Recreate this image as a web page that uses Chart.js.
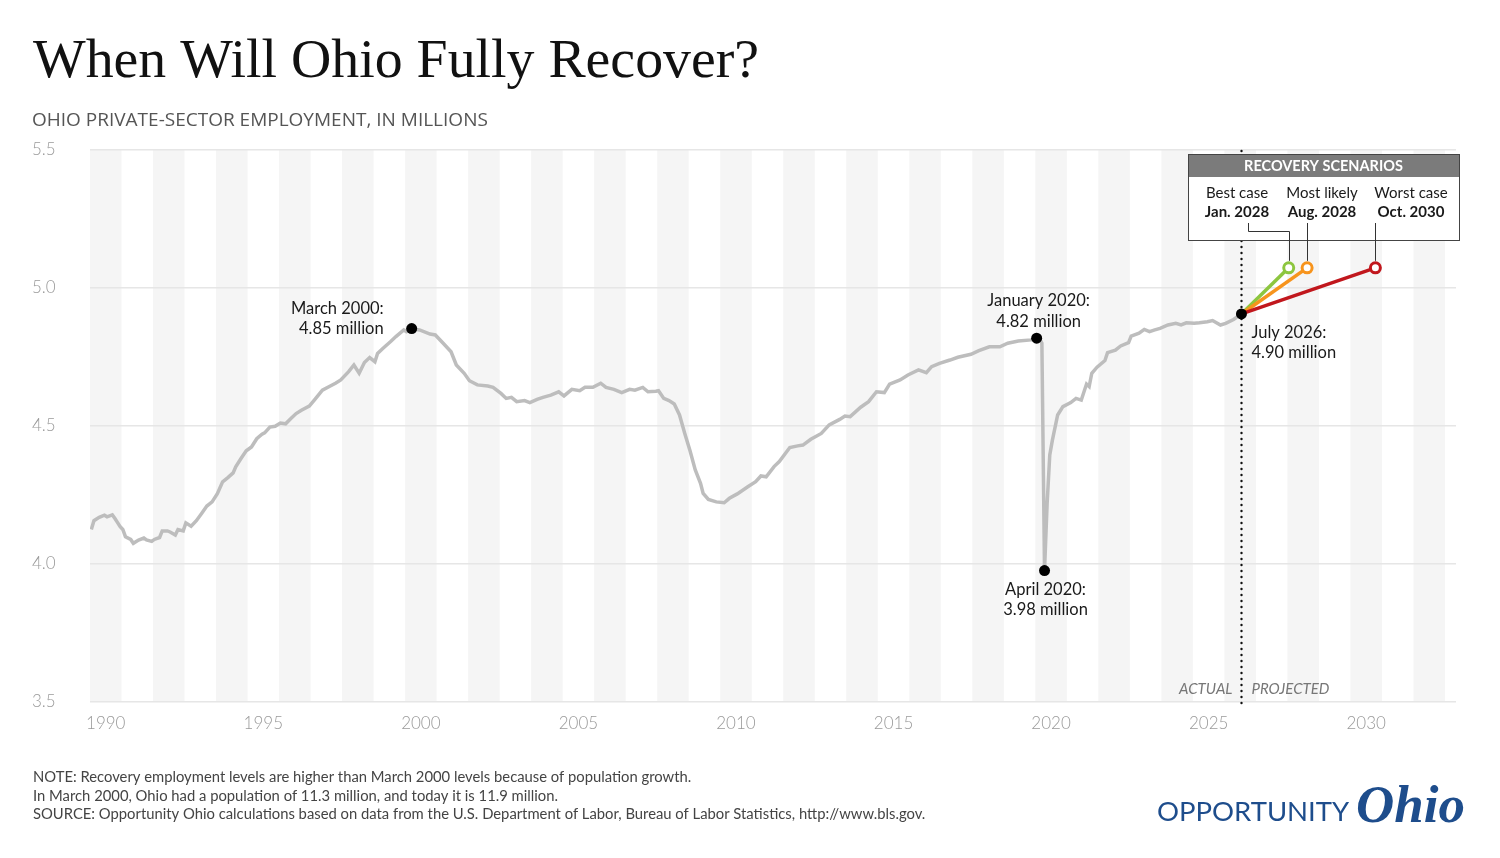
<!DOCTYPE html>
<html>
<head>
    <title>When Will Ohio Fully Recover?</title>
    <script src="https://cdn.jsdelivr.net/npm/chart.js"></script>
    <style>
        html, body { margin: 0; padding: 0; background: #fff; }
        .wrap { position: relative; width: 1500px; height: 858px; }
    </style>
</head>
<body>
    <div class="wrap">
        <canvas id="chart"></canvas>
    </div>

    <script>
        // Ohio private-sector employment, millions
        const months = [
            '1990-01','1990-02','1990-04','1990-06','1990-07','1990-09','1990-10','1990-11','1990-12',
            '1991-01','1991-02','1991-04','1991-05','1991-07','1991-09','1991-10','1991-12',
            '1992-01','1992-03','1992-04','1992-06','1992-07','1992-09','1992-10','1992-12',
            '1993-01','1993-03','1993-05','1993-07','1993-09','1993-11',
            '1994-01','1994-03','1994-05','1994-07','1994-08','1994-10','1994-12',
            '1995-02','1995-04','1995-06','1995-07','1995-09','1995-11',
            '1996-01','1996-03','1996-05','1996-07','1996-09','1996-12',
            '1997-02','1997-05','1997-08','1997-10','1997-12',
            '1998-03','1998-05','1998-07','1998-09','1998-11',
            '1999-01','1999-02','1999-04','1999-07','1999-09','1999-12',
            '2000-01','2000-03','2000-06','2000-10','2000-12',
            '2001-03','2001-06','2001-08','2001-11',
            '2002-01','2002-04','2002-08','2002-10',
            '2003-01','2003-03','2003-05','2003-07','2003-10','2003-12',
            '2004-03','2004-05','2004-08','2004-11',
            '2005-01','2005-04','2005-07','2005-09','2005-12',
            '2006-03','2006-05','2006-08','2006-11',
            '2007-02','2007-04','2007-07','2007-09','2007-12',
            '2008-01','2008-03','2008-05','2008-07','2008-09','2008-11',
            '2009-01','2009-03','2009-05','2009-06','2009-08','2009-11',
            '2010-02','2010-04','2010-07','2010-11',
            '2011-02','2011-04','2011-06','2011-09','2011-11',
            '2012-03','2012-06','2012-08','2012-11',
            '2013-03','2013-06','2013-10','2013-12',
            '2014-02','2014-06','2014-09','2014-12',
            '2015-03','2015-05','2015-09','2015-12',
            '2016-04','2016-07','2016-09','2016-12',
            '2017-04','2017-07','2017-12',
            '2018-03','2018-07','2018-11',
            '2019-02','2019-06','2019-11',
            '2020-01','2020-02','2020-03','2020-04','2020-05','2020-06','2020-07','2020-09','2020-11',
            '2021-02','2021-04','2021-06','2021-08','2021-09','2021-10','2021-12',
            '2022-03','2022-04','2022-07','2022-09','2022-12',
            '2023-01','2023-04','2023-06','2023-08','2023-10','2023-12',
            '2024-03','2024-06','2024-08','2024-10',
            '2025-01','2025-03','2025-06','2025-08','2025-11',
            '2026-01','2026-04','2026-07'
        ];
        const employment = [
            4.125,4.157,4.169,4.177,4.171,4.178,4.165,4.150,4.135,
            4.125,4.099,4.089,4.075,4.087,4.094,4.087,4.082,
            4.089,4.096,4.120,4.120,4.116,4.105,4.125,4.120,
            4.149,4.137,4.157,4.183,4.210,4.225,
            4.255,4.298,4.313,4.330,4.352,4.382,4.410,
            4.424,4.454,4.470,4.475,4.496,4.499,
            4.511,4.508,4.527,4.545,4.557,4.572,
            4.595,4.630,4.645,4.655,4.667,
            4.697,4.721,4.691,4.730,4.748,
            4.733,4.763,4.781,4.806,4.824,4.848,
            4.842,4.853,4.848,4.833,4.830,
            4.800,4.769,4.721,4.691,
            4.664,4.649,4.645,4.640,
            4.618,4.600,4.604,4.588,4.592,4.585,
            4.597,4.604,4.612,4.624,
            4.609,4.633,4.628,4.640,4.640,
            4.655,4.640,4.633,4.621,
            4.633,4.630,4.640,4.624,4.626,
            4.628,4.600,4.592,4.580,4.540,4.473,
            4.410,4.341,4.292,4.256,4.234,4.225,
            4.222,4.238,4.254,4.280,
            4.298,4.319,4.316,4.353,4.371,
            4.422,4.428,4.431,4.452,
            4.473,4.504,4.524,4.536,
            4.534,4.568,4.588,4.624,
            4.621,4.652,4.667,4.685,
            4.703,4.693,4.715,4.727,
            4.739,4.749,4.760,
            4.773,4.787,4.787,
            4.800,4.808,4.812,
            4.818,4.818,4.800,3.976,4.220,4.395,4.449,4.540,4.570,
            4.585,4.600,4.594,4.652,4.643,4.691,4.713,
            4.737,4.766,4.775,4.790,4.802,
            4.826,4.836,4.850,4.842,4.848,4.854,
            4.866,4.872,4.866,4.874,
            4.872,4.874,4.878,4.882,4.866,
            4.872,4.886,4.906
        ];

        // recovery scenarios: all reach the same employment level
        const scenarioNames = ['Best case', 'Most likely', 'Worst case'];
        const scenarioDates = ['Jan. 2028', 'Aug. 2028', 'Oct. 2030'];
        const scenarioMonths = ['2028-01', '2028-08', '2030-10'];
        const recoveryLevel = 5.073;
        const projectionStart = '2026-07';

        // highlighted points
        const calloutMonths = ['2000-03', '2020-01', '2020-04', '2026-07'];
        const calloutTitles = ['March 2000:', 'January 2020:', 'April 2020:', 'July 2026:'];
        const calloutValues = ['4.85 million', '4.82 million', '3.98 million', '4.90 million'];

        const yearTicks = [1990, 1995, 2000, 2005, 2010, 2015, 2020, 2025, 2030];
        const yTicks = [3.5, 4.0, 4.5, 5.0, 5.5];

        const notes = [
            'NOTE: Recovery employment levels are higher than March 2000 levels because of population growth.',
            'In March 2000, Ohio had a population of 11.3 million, and today it is 11.9 million.',
            'SOURCE: Opportunity Ohio calculations based on data from the U.S. Department of Labor, Bureau of Labor Statistics, http://www.bls.gov.'
        ];

        // month string -> decimal year (middle of the month)
        function toYear(m) {
            const [y, mo] = m.split('-').map(Number);
            return y + (mo - 0.5) / 12;
        }
        function valueAt(m) {
            return employment[months.indexOf(m)];
        }

        const SANS = 'Lato, "Open Sans", sans-serif';
        const scenarioColors = ['#8dc63f', '#f7941d', '#c1171d'];

        const actual = months.map((m, i) => ({ x: toYear(m), y: employment[i] }));

        const projections = scenarioMonths.map((m, i) => ({
            label: scenarioNames[i],
            data: [
                { x: toYear(projectionStart), y: valueAt(projectionStart) },
                { x: toYear(m), y: recoveryLevel }
            ],
            borderColor: scenarioColors[i],
            borderWidth: 3.5,
            pointRadius: [0, 5],
            pointBorderWidth: 3,
            pointBackgroundColor: '#fff',
            pointBorderColor: scenarioColors[i]
        })).reverse(); // worst case drawn first, best case on top

        // background: alternating year bands, dotted divider, headings
        const backdrop = {
            id: 'backdrop',
            beforeDraw(chart) {
                const { ctx, chartArea: a, scales: { x } } = chart;
                ctx.save();
                ctx.fillStyle = '#fff';
                ctx.fillRect(0, 0, chart.width, chart.height);
                ctx.fillStyle = '#f5f5f5';
                for (let yr = 1990; yr < 2034; yr += 2) {
                    const l = Math.max(x.getPixelForValue(yr), a.left);
                    const r = Math.min(x.getPixelForValue(yr + 1), a.right);
                    if (r > l) ctx.fillRect(l, a.top, r - l, a.bottom - a.top);
                }
                ctx.restore();
            },
            beforeDatasetsDraw(chart) {
                const { ctx, chartArea: a, scales: { x } } = chart;
                const dx = Math.round(x.getPixelForValue(toYear(projectionStart))) + 0.5;
                ctx.save();
                ctx.fillStyle = '#111';
                for (let yy = a.top + 1; yy < a.bottom + 2; yy += 6) {
                    ctx.beginPath();
                    ctx.arc(dx, yy, 1.2, 0, Math.PI * 2);
                    ctx.fill();
                }
                ctx.font = 'italic 15px ' + SANS;
                ctx.fillStyle = '#777';
                ctx.textBaseline = 'alphabetic';
                ctx.textAlign = 'right';
                ctx.fillText('ACTUAL', dx - 9, a.bottom - 8);
                ctx.textAlign = 'left';
                ctx.fillText('PROJECTED', dx + 10, a.bottom - 8);
                ctx.restore();
            }
        };

        const callouts = {
            id: 'callouts',
            afterDatasetsDraw(chart) {
                const { ctx, scales: { x, y } } = chart;
                ctx.save();
                ctx.font = '16.5px ' + SANS;
                ctx.fillStyle = '#1a1a1a';
                ctx.textBaseline = 'middle';
                const place = [
                    { align: 'right', dx: -28, dy: [-20, 0] },
                    { align: 'center', dx: 2, dy: [-38, -17] },
                    { align: 'center', dx: 1, dy: [19, 39] },
                    { align: 'left', dx: 10, dy: [19, 39] }
                ];
                calloutMonths.forEach((m, i) => {
                    const px = x.getPixelForValue(toYear(m));
                    const py = y.getPixelForValue(valueAt(m));
                    ctx.fillStyle = '#000';
                    ctx.beginPath();
                    ctx.arc(px, py, 5.5, 0, Math.PI * 2);
                    ctx.fill();
                    ctx.fillStyle = '#1a1a1a';
                    ctx.textAlign = place[i].align;
                    ctx.fillText(calloutTitles[i], px + place[i].dx, py + place[i].dy[0]);
                    ctx.fillText(calloutValues[i], px + place[i].dx, py + place[i].dy[1]);
                });

                // recovery scenarios box
                const bx = 1188, by = 154, bw = 271, bh = 86;
                ctx.fillStyle = '#fff';
                ctx.fillRect(bx, by, bw, bh);
                ctx.fillStyle = '#7b7b7b';
                ctx.fillRect(bx, by, bw, 23);
                ctx.strokeStyle = '#444';
                ctx.lineWidth = 1;
                ctx.strokeRect(bx + 0.5, by + 0.5, bw, bh);
                ctx.fillStyle = '#fff';
                ctx.textAlign = 'center';
                ctx.font = 'bold 14.5px ' + SANS;
                ctx.fillText('RECOVERY SCENARIOS', bx + bw / 2, by + 12);
                const colX = [1237, 1322, 1411];
                scenarioNames.forEach((n, i) => {
                    ctx.fillStyle = '#1a1a1a';
                    ctx.font = '15px ' + SANS;
                    ctx.fillText(n, colX[i], 193);
                    ctx.font = 'bold 15px ' + SANS;
                    ctx.fillText(scenarioDates[i], colX[i], 212);
                });
                // leader lines down to the end markers
                ctx.strokeStyle = '#333';
                ctx.lineWidth = 1;
                scenarioMonths.forEach((m, i) => {
                    const mx = Math.round(x.getPixelForValue(toYear(m))) + 0.5;
                    const my = y.getPixelForValue(recoveryLevel) - 7;
                    ctx.beginPath();
                    if (i === 0) {
                        ctx.moveTo(1248.5, 223);
                        ctx.lineTo(1248.5, 231.5);
                        ctx.lineTo(mx, 231.5);
                        ctx.lineTo(mx, my);
                    } else {
                        ctx.moveTo(mx, 223);
                        ctx.lineTo(mx, my);
                    }
                    ctx.stroke();
                });
                ctx.restore();
            },
            afterDraw(chart) {
                const { ctx } = chart;
                ctx.save();
                ctx.textBaseline = 'alphabetic';
                ctx.textAlign = 'left';
                ctx.fillStyle = '#111';
                ctx.font = '55.8px "Liberation Serif", "DejaVu Serif", serif';
                ctx.fillText('When Will Ohio Fully Recover?', 33, 77);
                ctx.fillStyle = '#555';
                ctx.font = '19px "Open Sans", sans-serif';
                ctx.fillText('OHIO PRIVATE-SECTOR EMPLOYMENT, IN MILLIONS', 32, 126);
                ctx.fillStyle = '#444';
                ctx.font = '14.8px ' + SANS;
                notes.forEach((t, i) => ctx.fillText(t, 33, 782 + i * 18.5));
                ctx.fillStyle = '#1e4d8c';
                ctx.font = '27.5px ' + SANS;
                ctx.fillText('OPPORTUNITY', 1157, 821);
                ctx.font = 'italic bold 53px "Liberation Serif", serif';
                ctx.fillText('Ohio', 1356, 822);
                ctx.restore();
            }
        };

        new Chart(document.getElementById('chart'), {
            type: 'line',
            data: {
                datasets: [
                    {
                        label: 'Actual',
                        data: actual,
                        borderColor: '#bdbdbd',
                        borderWidth: 3.5,
                        pointRadius: 0,
                        tension: 0
                    },
                    ...projections
                ]
            },
            options: {
                responsive: true,
                maintainAspectRatio: false,
                animation: false,
                events: [],
                layout: { padding: { left: 32, right: 44, top: 150, bottom: 116 } },
                plugins: { legend: { display: false }, tooltip: { enabled: false } },
                scales: {
                    x: {
                        type: 'linear',
                        min: 1990,
                        max: 2033.35,
                        grid: { display: false },
                        border: { display: false },
                        afterBuildTicks: s => { s.ticks = yearTicks.map(v => ({ value: v + 0.5 })); },
                        afterFit: s => { s.height = 40; },
                        ticks: {
                            callback: v => String(Math.floor(v)),
                            color: '#9a9a9a',
                            padding: 3,
                            maxRotation: 0,
                            font: { family: SANS, size: 17, weight: '300' }
                        }
                    },
                    y: {
                        min: 3.5,
                        max: 5.5,
                        afterBuildTicks: s => { s.ticks = yTicks.map(v => ({ value: v })); },
                        afterFit: s => { s.width = 58; },
                        grid: { color: '#e6e6e6', lineWidth: 1.5, drawTicks: false },
                        border: { display: false },
                        ticks: {
                            callback: v => v.toFixed(1),
                            color: '#9a9a9a',
                            crossAlign: 'far',
                            padding: 0,
                            font: { family: SANS, size: 17, weight: '300' }
                        }
                    }
                }
            },
            plugins: [backdrop, callouts]
        });
    </script>
</body>
</html>
